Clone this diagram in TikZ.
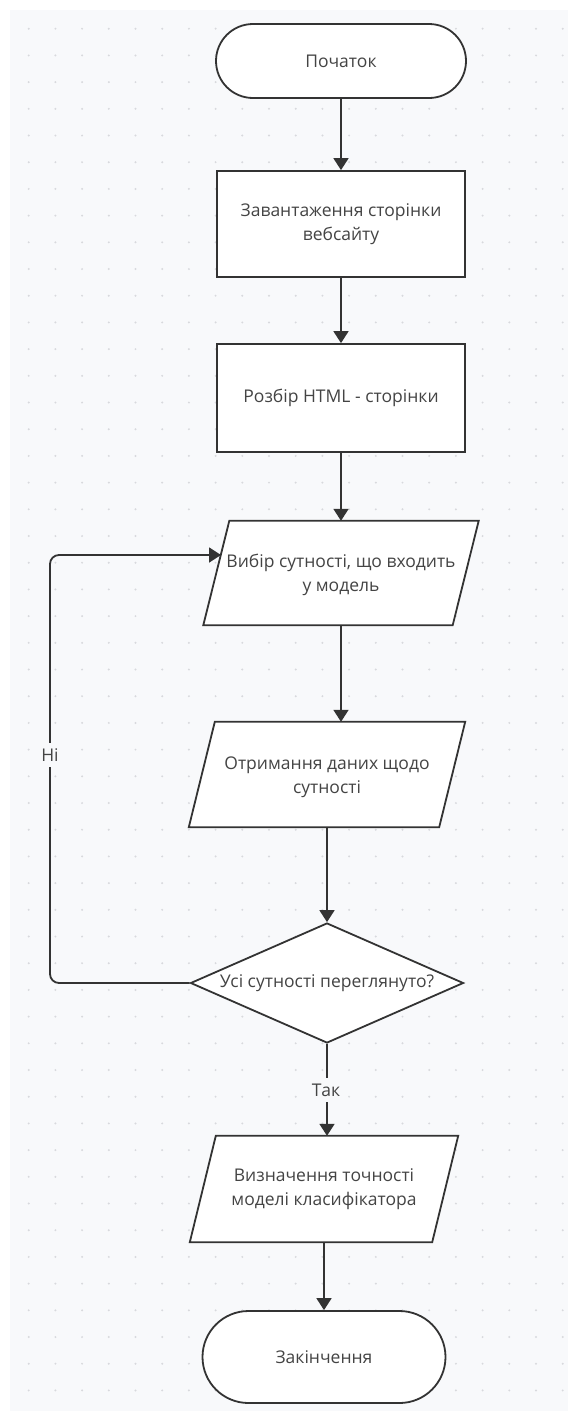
\documentclass[tikz,border=0pt]{standalone}
\usepackage{fontspec}
\setmainfont{Open Sans}
\usetikzlibrary{shapes.geometric,arrows.meta}

\definecolor{canvas}{HTML}{F8F9FB}
\definecolor{griddot}{HTML}{D8D9DD}
\definecolor{edge}{HTML}{333333}
\definecolor{ink}{HTML}{444444}

% parallelogram around the body box of an io node (slant offset 13pt each side)
\newcommand{\slantbox}[1]{%
  \draw[outline, fill=white]
    ([xshift=13pt]#1.north west) -- ([xshift=13pt]#1.north east) --
    ([xshift=-13pt]#1.south east) -- ([xshift=-13pt]#1.south west) -- cycle;}

\begin{document}
\begin{tikzpicture}[x=1pt,y=-1pt,
  txt/.style={font=\fontsize{17.5}{24}\selectfont, text=ink, align=center, inner sep=0pt},
  outline/.style={draw=edge, line width=1.8pt, line join=miter},
  shapebase/.style={outline, fill=white, inner sep=0pt},
  terminal/.style={shapebase, rectangle, rounded corners=#1},
  process/.style={shapebase, rectangle},
  iobody/.style={rectangle, inner sep=0pt},
  decision/.style={shapebase, diamond},
  flow/.style={draw=edge, line width=1.8pt, -{Triangle[width=15pt,length=12pt]}},
  tag/.style={txt, fill=canvas, inner xsep=3pt, inner ysep=6pt}
]
\useasboundingbox (0,0) rectangle (568,1411);

% canvas with dotted grid
\fill[white] (0,0) rectangle (568,1411);
\fill[canvas] (10,10) rectangle (568,1411);
\foreach \i in {1,...,21}
  \foreach \j in {1,...,52}
    \fill[griddot] ({2+26.7*\i},{2+26.7*\j}) circle (1.1pt);

% blocks
\node[terminal=37pt, minimum width=250pt, minimum height=74pt] (start) at (341,61) {};
\node[txt] (startt) at (start.center) {Початок};

\node[process, minimum width=248pt, minimum height=106pt] (load) at (341,224) {};
\node[txt] (loadt) at (load.center) {Завантаження сторінки\\вебсайту};

\node[process, minimum width=248pt, minimum height=108pt] (parse) at (341,398) {};
\node[txt] (parset) at (parse.center) {Розбір HTML - сторінки};

\node[iobody, minimum width=249pt, minimum height=104pt] (pick) at (341,573) {};
\slantbox{pick}
\node[txt] (pickt) at (341,575) {Вибір сутності, що входить\\у модель};

\node[iobody, minimum width=250pt, minimum height=105pt] (fetch) at (327,774.5) {};
\slantbox{fetch}
\node[txt] (fetcht) at (327,777) {Отримання даних щодо\\сутності};

\node[decision, minimum width=273pt, minimum height=120pt] (done) at (327,983) {};
\node[txt] (donet) at (done.center) {Усі сутності переглянуто?};

\node[iobody, minimum width=242pt, minimum height=106pt] (acc) at (324,1189) {};
\slantbox{acc}
\node[txt] (acct) at (acc.center) {Визначення точності\\моделі класифікатора};

\node[terminal=46pt, minimum width=243pt, minimum height=92pt] (stop) at (324,1357) {};
\node[txt] (stopt) at (stop.center) {Закінчення};

% connectors
\draw[flow] (start.south) -- (start.south |- load.north);
\draw[flow] (load.south) -- (load.south |- parse.north);
\draw[flow] (parse.south) -- (parse.south |- pick.north);
\draw[flow] (pick.south) -- (pick.south |- fetch.north);
\draw[flow] (fetch.south) -- (fetch.south |- done.north);
\draw[flow] (done.south) -- (done.south |- acc.north);
\draw[flow] (acc.south) -- (acc.south |- stop.north);

% loop back for the "no" branch
\coordinate (rail) at (50,555);
\coordinate (pickin) at (221,555);
\draw[flow, rounded corners=9pt] (done.west) -| (rail) -- (pickin);

\node[tag] (no) at (50,755) {Ні};
\node[tag] (yes) at (326,1090) {Так};
\end{tikzpicture}
\end{document}
